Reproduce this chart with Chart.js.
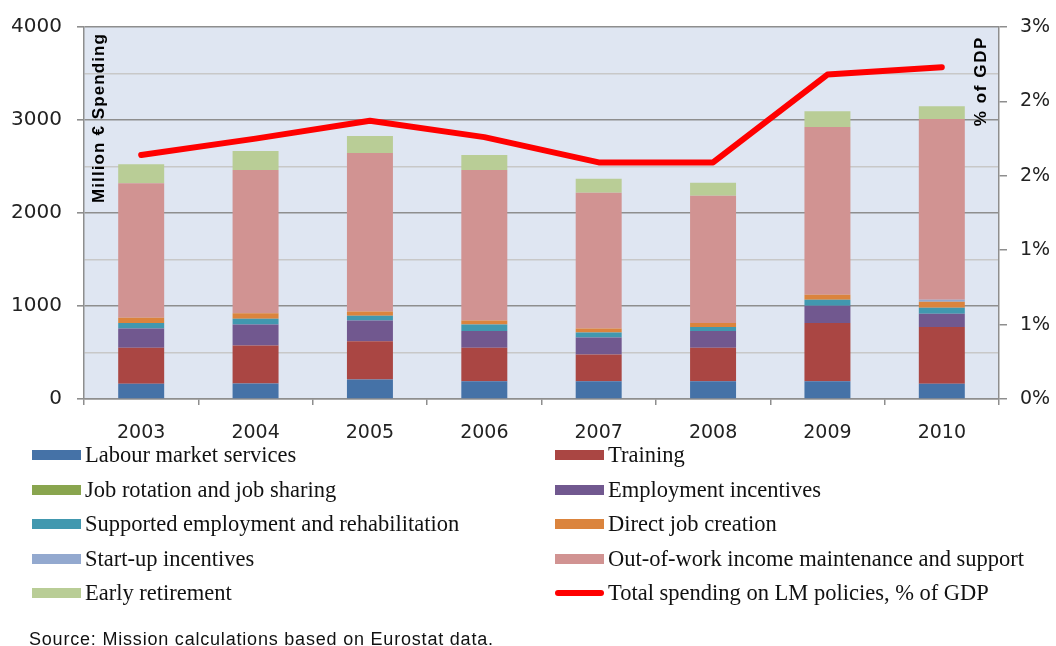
<!DOCTYPE html>
<html>
<head>
<meta charset="utf-8">
<script src="https://cdn.jsdelivr.net/npm/chart.js@4/dist/chart.umd.min.js"></script>
<style>
  html, body { margin: 0; padding: 0; background: #fff; }
  #wrap { position: relative; width: 1056px; height: 646px; overflow: hidden; }
  #box { position: absolute; left: 0; top: 0; width: 1056px; height: 450px; }
  #legend { position: absolute; left: 0; top: 0; width: 1056px; height: 646px; pointer-events: none; }
  .item { position: absolute; display: flex; align-items: center; height: 26px;
          font-family: "Liberation Serif", "Times New Roman", serif; font-size: 22.5px; color: #111; white-space: nowrap; }
  .sw { width: 49px; height: 10px; margin-right: 4px; flex: none; }
  .sw.line { height: 6px; border-radius: 3px; }
  #source { position: absolute; left: 29px; top: 630px; line-height: 18px; font-family: "Liberation Sans", Arial, sans-serif;
            font-size: 18px; color: #111; letter-spacing: 0.8px; white-space: nowrap; }
</style>
</head>
<body>
<div id="wrap">
  <div id="box"><canvas id="c"></canvas></div>
  <div id="legend"></div>
  <div id="source">Source: Mission calculations based on Eurostat data.</div>
</div>
<script>
// Years on the category axis
const years = ['2003', '2004', '2005', '2006', '2007', '2008', '2009', '2010'];

// Spending by labour-market policy type, million EUR
const labourMarketServices = [164, 168, 211, 190, 190, 190, 190, 164];
const training             = [386, 407, 410, 360, 289, 360, 627, 611];
const jobRotation          = [0, 0, 0, 0, 0, 0, 0, 0];
const employmentIncentives = [207, 225, 222, 182, 182, 182, 186, 143];
const supportedEmployment  = [60, 64, 53, 68, 53, 43, 65, 64];
const directJobCreation    = [58, 57, 46, 43, 43, 42, 53, 64];
const startUpIncentives    = [0, 0, 0, 0, 0, 0, 0, 22];
const outOfWorkIncome      = [1446, 1542, 1703, 1620, 1460, 1368, 1803, 1942];
const earlyRetirement      = [204, 204, 182, 161, 150, 139, 171, 139];

// Total spending on LM policies, % of GDP
const totalPctGdp = [1.64, 1.75, 1.87, 1.76, 1.59, 1.59, 2.18, 2.23];

// Axis tick values
const leftTicksMax = 4000;
const leftStep = 500;
const rightTicksMax = 2.5;
const rightStep = 0.5;

const seriesNames = [
  'Labour market services', 'Training',
  'Job rotation and job sharing', 'Employment incentives',
  'Supported employment and rehabilitation', 'Direct job creation',
  'Start-up incentives', 'Out-of-work income maintenance and support',
  'Early retirement'
];
const seriesValues = [
  labourMarketServices, training, jobRotation, employmentIncentives,
  supportedEmployment, directJobCreation, startUpIncentives, outOfWorkIncome, earlyRetirement
];
const seriesColors = [
  '#4572A7', '#AA4643', '#89A54E', '#71588F',
  '#4198AF', '#DB843D', '#93A9CF', '#D19392', '#B9CD96'
];
const lineName = 'Total spending on LM policies, % of GDP';
const lineColor = '#FF0000';

const datasets = seriesNames.map((name, i) => ({
  type: 'bar',
  label: name,
  data: seriesValues[i],
  backgroundColor: seriesColors[i],
  borderWidth: 0,
  yAxisID: 'y',
  stack: 'spend',
  order: 1,
  categoryPercentage: 1.0,
  barPercentage: 0.402
}));
datasets.push({
  type: 'line',
  label: lineName,
  data: totalPctGdp,
  borderColor: lineColor,
  backgroundColor: lineColor,
  borderWidth: 6,
  borderCapStyle: 'round',
  borderJoinStyle: 'round',
  pointRadius: 0,
  tension: 0,
  yAxisID: 'y1',
  order: 0
});

const plotBg = {
  id: 'plotBg',
  beforeDraw(chart) {
    const { ctx, chartArea: a } = chart;
    ctx.save();
    ctx.fillStyle = '#fff';
    ctx.fillRect(0, 0, chart.width, chart.height);
    ctx.fillStyle = '#DFE6F2';
    ctx.fillRect(a.left, a.top, a.right - a.left, a.bottom - a.top);
    ctx.restore();
  }
};

// Rotated axis titles drawn inside the plot area
const axisTitles = {
  id: 'axisTitles',
  afterDraw(chart) {
    const { ctx, chartArea: a } = chart;
    const drawTitle = (text, x, y, spacing) => {
      ctx.save();
      ctx.fillStyle = '#000';
      ctx.font = 'bold 17px "Liberation Sans", Arial, sans-serif';
      ctx.textBaseline = 'middle';
      ctx.textAlign = 'right';
      ctx.letterSpacing = spacing;
      ctx.translate(x, y);
      ctx.rotate(-Math.PI / 2);
      ctx.fillText(text, 0, 0);
      ctx.restore();
    };
    drawTitle('Million € Spending', a.left + 15, a.top + 6, '1.1px');
    drawTitle('% of GDP', a.right - 18, a.top + 9, '1.6px');
  }
};

const axisGrey = '#8e8e8e';
const minorGrey = '#c8c8c8';

new Chart(document.getElementById('c'), {
  data: { labels: years, datasets },
  options: {
    responsive: true,
    maintainAspectRatio: false,
    animation: false,
    layout: { padding: { top: 26, left: 0, right: 0, bottom: 0 } },
    plugins: { legend: { display: false }, tooltip: { enabled: false } },
    scales: {
      x: {
        stacked: true,
        offset: true,
        grid: { offset: true, drawOnChartArea: false, drawTicks: true, tickLength: 6, color: axisGrey, lineWidth: 1.5 },
        border: { display: true, color: axisGrey, width: 1.5 },
        ticks: { font: { family: '"DejaVu Sans", sans-serif', size: 19 }, color: '#222', padding: 17, maxRotation: 0 },
        afterFit(s) { s.height = 51; }
      },
      y: {
        position: 'left',
        stacked: true,
        min: 0,
        max: leftTicksMax,
        ticks: {
          stepSize: leftStep,
          font: { family: '"DejaVu Sans", sans-serif', size: 20 },
          color: '#222',
          padding: 15,
          callback: v => (v % 1000 === 0 ? String(v) : '')
        },
        grid: {
          color: c => (c.tick && c.tick.value % 1000 === 0 ? axisGrey : minorGrey),
          tickColor: c => (c.tick && c.tick.value % 1000 === 0 ? axisGrey : 'rgba(0,0,0,0)'),
          lineWidth: c => (c.tick && c.tick.value % 1000 === 0 ? 1.6 : 1.4),
          tickLength: 7
        },
        border: { display: true, color: axisGrey, width: 1.5 },
        afterFit(s) { s.width = 84; }
      },
      y1: {
        position: 'right',
        stacked: false,
        min: 0,
        max: rightTicksMax,
        ticks: {
          stepSize: rightStep,
          font: { family: '"DejaVu Sans", sans-serif', size: 19 },
          color: '#222',
          padding: 13,
          callback: v => Math.round(v) + '%'
        },
        grid: { drawOnChartArea: false, tickLength: 8, tickColor: axisGrey, lineWidth: 1.5 },
        border: { display: true, color: axisGrey, width: 1.5 },
        afterFit(s) { s.width = 57; }
      }
    }
  },
  plugins: [plotBg, axisTitles]
});

// Legend: two columns, row-major in series order
const legend = document.getElementById('legend');
const legendEntries = seriesNames.map((n, i) => ({ name: n, color: seriesColors[i], line: false }));
legendEntries.push({ name: lineName, color: lineColor, line: true });
legendEntries.forEach((e, i) => {
  const row = Math.floor(i / 2), col = i % 2;
  const el = document.createElement('div');
  el.className = 'item';
  el.style.left = (col === 0 ? 32 : 555) + 'px';
  el.style.top = (442 + row * 34.5) + 'px';
  const sw = document.createElement('span');
  sw.className = 'sw' + (e.line ? ' line' : '');
  sw.style.background = e.color;
  const tx = document.createElement('span');
  tx.textContent = e.name;
  el.appendChild(sw);
  el.appendChild(tx);
  legend.appendChild(el);
});
</script>
</body>
</html>
